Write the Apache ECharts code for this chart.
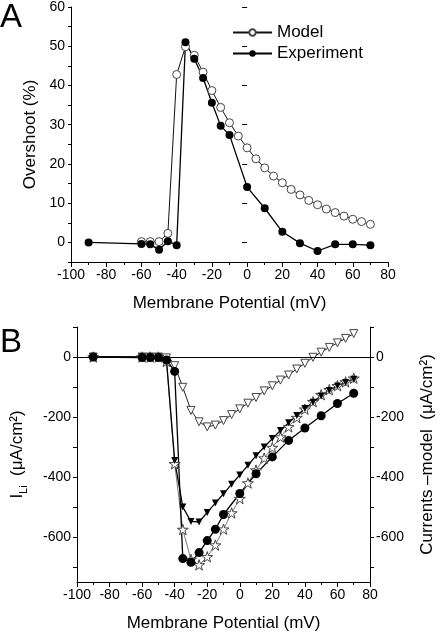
<!DOCTYPE html>
<html>
<head>
<meta charset="utf-8">
<script src="https://cdn.jsdelivr.net/npm/echarts@6/dist/echarts.min.js"></script>
<style>
html,body{margin:0;padding:0;background:#fff;}
#c{width:444px;height:636px;}
</style>
</head>
<body>
<div id="c"></div>
<script>
// ---------- Panel A data ----------
var xModelA = [-60,-55,-50,-45,-40,-35,-30,-25,-20,-15,-10,-5,0,5,10,15,20,25,30,35,40,45,50,55,60,65,70];
var modelA  = [0.2,0.2,0.2,2.3,42.8,49.9,47.7,43.4,38.7,34.4,30.5,27.1,24.1,21.3,19.0,16.9,15.2,13.5,12.1,10.7,9.6,8.5,7.6,6.7,5.9,5.3,4.6];
var xExpA   = [-90,-60,-55,-50,-45,-40,-35,-30,-25,-20,-15,-10,0,10,20,30,40,50,60,70];
var expA    = [0,-0.4,-0.5,-1.9,0.3,-0.7,51.0,46.8,41.9,35.6,29.7,27.4,14.1,8.7,2.7,-0.2,-2.2,-0.5,-0.5,-0.7];

// ---------- Panel B data ----------
var xModelB   = [-90,-60,-55,-50,-45,-40,-35,-30,-25,-20,-15,-10,-5,0,5,10,15,20,25,30,35,40,45,50,55,60,65,70];
var triOpenB  = [0,0,0,0,-3,-29,-101,-178,-216,-233,-227,-212,-192,-173,-154,-135,-113,-96,-77,-60,-40,-21,-1,16,32,47,62,78];
var starB     = [0,0,0,0,-15,-356,-575,-675,-693,-666,-627,-574,-520,-472,-420,-377,-337,-302,-267,-233,-202,-174,-149,-126,-109,-96,-83,-71];
var triFillB  = [0,0,0,0,-12,-345,-500,-548,-550,-518,-487,-456,-424,-393,-361,-329,-300,-272,-245,-219,-195,-172,-151,-130,-112,-97,-85,-74];
var xExpB     = [-90,-60,-55,-50,-45,-40,-35,-30,-25,-20,-15,-10,0,10,20,30,40,50,60,70];
var circB     = [0,-2,-2,-2,-10,-48,-672,-684,-652,-612,-574,-525,-455,-389,-333,-278,-237,-196,-155,-121];

// ---------- ticks ----------
var xTicks    = [-100,-80,-60,-40,-20,0,20,40,60,80];
var yTicksA   = [0,10,20,30,40,50,60];
var yLabelsB  = [-600,-400,-200,0];
var yTicksB   = [-700,-600,-500,-400,-300,-200,-100,0,100];

function pairs(xs, ys){ return xs.map(function(x,i){ return [x, ys[i]]; }); }

var FONT = 'Liberation Sans, Arial, sans-serif';
var STAR = 'path://M50,0 L61.2,34.5 L97.6,34.5 L68.2,55.9 L79.4,90.5 L50,69.1 L20.6,90.5 L31.8,55.9 L2.4,34.5 L38.8,34.5 Z';

function xAxisDef(grid){
  return {
    gridIndex: grid, type: 'value', min: -100, max: 80, interval: 20,
    axisLine: {onZero: false, lineStyle: {color: '#000', width: 1}},
    axisTick: {inside: false, length: 5, lineStyle: {color: '#000'}},
    minorTick: {show: true, splitNumber: 2, length: 3, lineStyle: {color: '#000'}},
    splitLine: {show: false}, minorSplitLine: {show: false},
    axisLabel: {color: '#000', fontSize: 14, fontFamily: FONT, margin: 6, customValues: xTicks},
    name: 'Membrane Potential (mV)', nameLocation: 'middle', nameGap: 33,
    nameTextStyle: {color: '#000', fontSize: 17, fontFamily: FONT}
  };
}

var chart = echarts.init(document.getElementById('c'), null, {renderer: 'canvas'});
var option = {
  backgroundColor: '#fff',
  animation: false,
  grid: [
    {left: 71, top: 7, width: 317, height: 255},
    {left: 71, top: 327, width: 317, height: 255}
  ],
  legend: {
    data: ['Model', 'Experiment'], orient: 'vertical', left: 227, top: 19,
    itemWidth: 39, itemHeight: 8, itemGap: 4,
    textStyle: {color: '#000', fontSize: 17, fontFamily: FONT}
  },
  graphic: [
    {type: 'text', left: 0, top: 1, style: {text: 'A', font: '33px ' + FONT, fill: '#000'}},
    {type: 'text', left: 0, top: 326, style: {text: 'B', font: '33px ' + FONT, fill: '#000'}}
  ],
  xAxis: [xAxisDef(0), xAxisDef(1)],
  yAxis: [
    { // A main
      gridIndex: 0, type: 'value', min: -5, max: 60, interval: 5,
      axisLine: {onZero: false, lineStyle: {color: '#000'}},
      axisTick: {length: 3, lineStyle: {color: '#000'}},
      splitLine: {show: false},
      axisLabel: {color: '#000', fontSize: 14, fontFamily: FONT, margin: 6, customValues: yTicksA},
      name: 'Overshoot (%)', nameLocation: 'middle', nameRotate: 90, nameGap: 31,
      nameTextStyle: {color: '#000', fontSize: 17, fontFamily: FONT}
    },
    { // A major ticks overlay
      gridIndex: 0, type: 'value', min: -5, max: 60, position: 'left',
      axisLine: {show: false},
      axisTick: {show: true, length: 5, customValues: yTicksA, lineStyle: {color: '#000'}},
      axisLabel: {show: false}, splitLine: {show: false}
    },
    { // B left
      gridIndex: 1, type: 'value', min: -750, max: 100, position: 'left',
      axisLine: {onZero: false, lineStyle: {color: '#000'}},
      axisTick: {length: 4, customValues: yTicksB, lineStyle: {color: '#000'}},
      splitLine: {show: false},
      axisLabel: {color: '#000', fontSize: 14, fontFamily: FONT, margin: 6, customValues: yLabelsB},
      name: '{a|I}{s|Li}{a|  (μA/cm²)}', nameLocation: 'middle', nameRotate: 90, nameGap: 48,
      nameTextStyle: {color: '#000', fontFamily: FONT,
        rich: {
          a: {fontSize: 17, fontFamily: FONT, color: '#000', lineHeight: 24, verticalAlign: 'middle'},
          s: {fontSize: 11, fontFamily: FONT, color: '#000', lineHeight: 24, verticalAlign: 'bottom', padding: [10, 0, 0, 0]}
        }}
    },
    { // B right
      gridIndex: 1, type: 'value', min: -750, max: 100, position: 'right',
      axisLine: {onZero: false, lineStyle: {color: '#000'}},
      axisTick: {length: 4, customValues: yTicksB, lineStyle: {color: '#000'}},
      splitLine: {show: false},
      axisLabel: {color: '#000', fontSize: 14, fontFamily: FONT, margin: 6, customValues: yLabelsB},
      name: 'Currents –model  (μA/cm²)', nameLocation: 'middle', nameRotate: 90, nameGap: 49,
      nameTextStyle: {color: '#000', fontSize: 17, fontFamily: FONT}
    }
  ],
  series: [
    {
      name: 'Model', type: 'line', xAxisIndex: 0, yAxisIndex: 0,
      data: pairs(xModelA, modelA),
      symbol: 'circle', symbolSize: 8,
      itemStyle: {color: '#fff', borderColor: '#444', borderWidth: 1},
      lineStyle: {color: '#111', width: 1}
    },
    {
      name: 'Experiment', type: 'line', xAxisIndex: 0, yAxisIndex: 0,
      data: pairs(xExpA, expA),
      symbol: 'circle', symbolSize: 8,
      itemStyle: {color: '#000', borderColor: '#000', borderWidth: 0},
      lineStyle: {color: '#000', width: 1.3}
    },
    {
      name: 'Model INa', type: 'line', xAxisIndex: 1, yAxisIndex: 2,
      data: pairs(xModelB, triOpenB),
      symbol: 'triangle', symbolRotate: 180, symbolSize: 8,
      itemStyle: {color: '#fff', borderColor: '#444', borderWidth: 1},
      lineStyle: {color: '#222', width: 1},
      markLine: {
        silent: true, symbol: 'none', label: {show: false},
        lineStyle: {color: '#000', width: 1, type: 'solid'},
        data: [{yAxis: 0}]
      }
    },
    {
      name: 'Model total', type: 'line', xAxisIndex: 1, yAxisIndex: 2,
      data: pairs(xModelB, starB),
      symbol: STAR, symbolSize: 11, symbolKeepAspect: true,
      itemStyle: {color: '#fff', borderColor: '#444', borderWidth: 1},
      lineStyle: {color: '#555', width: 0.8}
    },
    {
      name: 'Experiment ILi', type: 'line', xAxisIndex: 1, yAxisIndex: 2,
      data: pairs(xExpB, circB),
      symbol: 'circle', symbolSize: 9,
      itemStyle: {color: '#000', borderWidth: 0},
      lineStyle: {color: '#000', width: 1.3}
    },
    {
      name: 'Model ILi', type: 'line', xAxisIndex: 1, yAxisIndex: 2,
      data: pairs(xModelB, triFillB),
      symbol: 'triangle', symbolRotate: 180, symbolSize: 7,
      itemStyle: {color: '#000', borderWidth: 0},
      lineStyle: {color: '#000', width: 1.3}
    }
  ]
};
chart.setOption(option);
</script>
</body>
</html>
